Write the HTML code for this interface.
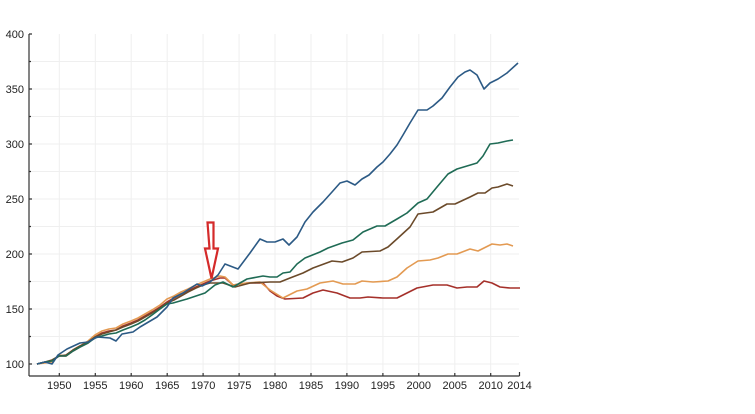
<!DOCTYPE html>
<html><head><meta charset="utf-8"><style>
html,body{margin:0;padding:0;background:#fff;width:755px;height:414px;overflow:hidden}
svg text{font-family:"Liberation Sans",sans-serif;font-size:11px;fill:#222}
</style></head><body>
<svg width="755" height="414" viewBox="0 0 755 414" xmlns="http://www.w3.org/2000/svg">
<g stroke="#efefef" stroke-width="1">
<line x1="59.3" y1="34" x2="59.3" y2="376"/><line x1="95.3" y1="34" x2="95.3" y2="376"/><line x1="131.2" y1="34" x2="131.2" y2="376"/><line x1="167.2" y1="34" x2="167.2" y2="376"/><line x1="203.1" y1="34" x2="203.1" y2="376"/><line x1="239.1" y1="34" x2="239.1" y2="376"/><line x1="275" y1="34" x2="275" y2="376"/><line x1="311" y1="34" x2="311" y2="376"/><line x1="346.9" y1="34" x2="346.9" y2="376"/><line x1="382.9" y1="34" x2="382.9" y2="376"/><line x1="418.8" y1="34" x2="418.8" y2="376"/><line x1="454.8" y1="34" x2="454.8" y2="376"/><line x1="490.7" y1="34" x2="490.7" y2="376"/>
<line x1="29" y1="364" x2="519" y2="364"/><line x1="29" y1="336.5" x2="519" y2="336.5"/><line x1="29" y1="309" x2="519" y2="309"/><line x1="29" y1="281.5" x2="519" y2="281.5"/><line x1="29" y1="254" x2="519" y2="254"/><line x1="29" y1="226.5" x2="519" y2="226.5"/><line x1="29" y1="199" x2="519" y2="199"/><line x1="29" y1="171.5" x2="519" y2="171.5"/><line x1="29" y1="144" x2="519" y2="144"/><line x1="29" y1="116.5" x2="519" y2="116.5"/><line x1="29" y1="89" x2="519" y2="89"/><line x1="29" y1="61.5" x2="519" y2="61.5"/>
</g>
<g stroke="#333" stroke-width="1.2" fill="none">
<line x1="29" y1="34" x2="29" y2="376"/><line x1="29" y1="376" x2="519.5" y2="376"/>
<path d="M29 34h3M29 61.5h2M29 89h3M29 116.5h2M29 144h3M29 171.5h2M29 199h3M29 226.5h2M29 254h3M29 281.5h2M29 309h3M29 336.5h2M29 364h3"/>
<path d="M59.3 376v-3M95.3 376v-3M131.2 376v-3M167.2 376v-3M203.1 376v-3M239.1 376v-3M275 376v-3M311 376v-3M346.9 376v-3M382.9 376v-3M418.8 376v-3M454.8 376v-3M490.7 376v-3M519.5 376v-4"/>
</g>
<g text-anchor="end">
<text x="24" y="38">400</text><text x="24" y="93">350</text><text x="24" y="148">300</text><text x="24" y="203">250</text><text x="24" y="258">200</text><text x="24" y="313">150</text><text x="24" y="368">100</text>
</g>
<g text-anchor="middle">
<text x="59.3" y="389">1950</text><text x="95.3" y="389">1955</text><text x="131.2" y="389">1960</text><text x="167.2" y="389">1965</text><text x="203.1" y="389">1970</text><text x="239.1" y="389">1975</text><text x="275" y="389">1980</text><text x="311" y="389">1985</text><text x="346.9" y="389">1990</text><text x="382.9" y="389">1995</text><text x="418.8" y="389">2000</text><text x="454.8" y="389">2005</text><text x="490.7" y="389">2010</text><text x="519.5" y="389">2014</text>
</g>
<g fill="none" stroke-width="1.6" stroke-linejoin="round">
<polyline stroke="#a5302a" points="37,364 45,362 52,361 59,356 66,356 73,351 80,347 88,343 95,337 102,333 109,331 116,330 123,326 131,323 138,320 145,316 152,312 160,307 167,302 174,298 181,294 188,291 196,287 203,284 210,281 220,278 225,278 233,285 247,283 263,283 270,291 277,296 285,299 303,298 313,293 323,290 337,293 350,298 360,298 368,297 383,298 397,298 407,293 417,288 433,285 447,285 457,288 467,287 477,287 484,281 492,283 500,287 510,288 520,288"/>
<polyline stroke="#e39a52" points="37,364 45,363 52,362 59,355 66,356 73,350 80,346 88,341 95,335 102,331 109,329 116,328 123,324 131,321 138,318 145,314 152,310 160,305 167,299 174,296 181,292 188,289 196,285 203,282 210,279 220,276 225,277 233,285 247,283 260,282 270,290 283,298 297,291 307,289 320,283 333,281 343,284 355,284 362,281 373,282 388,281 397,277 407,268 418,261 430,260 438,258 448,254 457,254 470,249 478,251 492,244 500,245 507,244 513,246"/>
<polyline stroke="#6b4a2a" points="37,364 45,362 52,360 59,356 66,355 73,350 80,346 88,342 95,337 102,334 109,332 116,330 123,327 131,324 138,321 145,317 152,313 160,308 167,303 174,300 181,296 188,292 196,288 203,285 210,283 223,283 235,287 250,283 270,282 280,282 290,278 303,273 313,268 332,261 342,262 353,258 362,252 380,251 388,247 398,238 410,227 418,214 433,212 447,204 455,204 470,197 478,193 485,193 492,188 498,187 507,184 513,186"/>
<polyline stroke="#1f6b55" points="37,364 45,362 52,361 59,356 66,356 73,351 80,347 88,343 95,338 102,336 109,334 116,333 123,330 131,327 138,324 145,320 152,315 160,309 167,304 173,303 187,299 205,293 215,285 223,282 233,287 247,279 263,276 270,277 277,277 283,273 290,272 297,264 305,258 320,252 328,248 342,243 353,240 363,232 377,226 385,226 397,219 407,213 418,203 427,199 437,187 448,174 457,169 467,166 477,163 483,156 490,144 498,143 507,141 513,140"/>
<polyline stroke="#2c5a85" points="37,364 45,362 52,364 58,355 67,349 80,343 88,342 97,337 110,338 116,341 122,334 133,332 140,327 157,317 167,307 173,298 183,293 197,284 202,286 210,282 218,275 225,264 238,269 250,253 260,239 267,242 275,242 283,239 289,245 297,237 305,222 313,212 323,202 332,192 340,183 347,181 355,185 362,179 369,175 377,167 383,162 390,154 397,145 403,135 410,123 418,110 427,110 433,106 442,98 450,87 458,77 465,72 470,70 477,75 484,89 490,83 498,79 507,73 518,63"/>
</g>
<path d="M207.5 222.5h6v26h4.5l-6.5 30l-6.5-30h4.5z" fill="#fff" stroke="#d42a2a" stroke-width="2.2" stroke-linejoin="miter"/>
</svg>
</body></html>
